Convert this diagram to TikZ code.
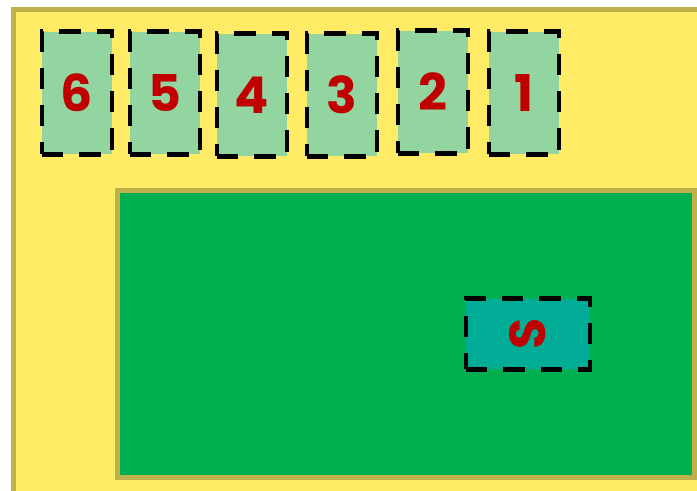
\documentclass[tikz,border=0pt]{standalone}
\usepackage{fontspec}
\setmainfont{Poppins}
\usepackage{tikz}
\usetikzlibrary{positioning}
\definecolor{padyellow}{RGB}{255, 235, 102}
\definecolor{edgeolive}{RGB}{190, 176, 74}
\definecolor{fieldgreen}{RGB}{0, 175, 80}
\definecolor{slotgreen}{RGB}{146, 213, 160}
\definecolor{startteal}{RGB}{0, 172, 150}
\definecolor{labelred}{RGB}{192, 0, 0}

\tikzset{
    slotbox/.style={fill=slotgreen, draw=black, line width=3.4pt, dash pattern=on 16pt off 12pt,
        minimum width=52.5pt, minimum height=92pt, inner sep=0pt,
        text=labelred, font=\fontsize{38}{38}\selectfont\bfseries},
    startbox/.style={fill=startteal, draw=black, line width=3.4pt, dash pattern=on 16pt off 12pt,
        minimum width=93pt, minimum height=53pt, inner sep=0pt,
        text=labelred, font=\fontsize{38}{38}\selectfont\bfseries}
}

\begin{document}
\begin{tikzpicture}[x=0.75pt, y=-0.75pt]
    \useasboundingbox (0,0) rectangle (697,491);
    \clip (0,0) rectangle (697,491);

    % Background
    \fill[white] (0,0) rectangle (697,491);
    \draw[fill=padyellow, draw=edgeolive, line width=3.75pt] (13.5,9.5) rectangle (740,540);

    % Field
    \draw[fill=fieldgreen, draw=edgeolive, line width=3.75pt] (117.5,190.5) rectangle (694.5,478);

    % Slots
    \node[slotbox] (slot6) at (77,93) {6};
    \node[slotbox] (slot5) at (165,93) {5};
    \node[slotbox] (slot4) at (252,95) {4};
    \node[slotbox] (slot3) at (342,95) {3};
    \node[slotbox] (slot2) at (433,92) {2};
    \node[slotbox] (slot1) at (524,93) {1};

    % Start
    \node[startbox] (start) at (528,334) {\rotatebox{90}{S}};

\end{tikzpicture}
\end{document}
